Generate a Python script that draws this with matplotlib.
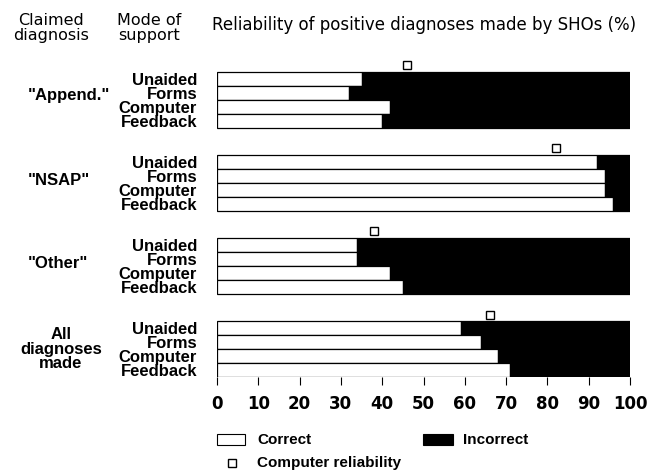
import matplotlib
matplotlib.use("Agg")
import matplotlib.pyplot as plt
import matplotlib.transforms as mtransforms
from matplotlib.patches import Rectangle
from matplotlib.lines import Line2D

# ---- data ----
diagnoses = ['"Append."', '"NSAP"', '"Other"', 'All\ndiagnoses\nmade']
modes = ["Unaided", "Forms", "Computer", "Feedback"]
correct = [
    [35, 32, 42, 40],   # Append.
    [92, 94, 94, 96],   # NSAP
    [34, 34, 42, 45],   # Other
    [59, 64, 68, 71],   # All diagnoses
]
computer_reliability = [46, 82, 38, 66]
xticks = [0, 10, 20, 30, 40, 50, 60, 70, 80, 90, 100]

W, H = 663, 475
fig = plt.figure(figsize=(W / 100, H / 100), dpi=100)
FONT = "Liberation Sans"
HFONT = "DejaVu Sans"
plt.rcParams["font.family"] = FONT

# axes placement in pixels
x0, x1 = 217, 630
ytop, ybot = 60, 377
ax = fig.add_axes([x0 / W, 1 - ybot / H, (x1 - x0) / W, (ybot - ytop) / H])

bar_h = 1.0
pitch = 83.5 / 14.0
first_top = (72 - ytop) / 14.0

centers = []
labels = []
for g, vals in enumerate(correct):
    for k, v in enumerate(vals):
        yc = g * pitch + k + 0.5
        centers.append(yc)
        labels.append(modes[k])
        ax.barh(yc, v, height=bar_h, left=0, color="white", edgecolor="black", linewidth=0.9)
        ax.barh(yc, 100 - v, height=bar_h, left=v, color="black", edgecolor="black", linewidth=0.9)
    ax.plot(computer_reliability[g], g * pitch - 0.48, marker="s", markersize=6,
            markerfacecolor="white", markeredgecolor="black", markeredgewidth=1.0,
            linestyle="none", clip_on=False)

last_bottom = 3 * pitch + 4
ax.set_ylim(last_bottom, -first_top)
ax.set_xlim(0, 100)
for s in ax.spines.values():
    s.set_visible(False)
ax.set_yticks(centers)
ax.set_yticklabels(labels, fontsize=12, fontweight="bold", family=FONT)
ax.tick_params(axis="y", length=0, pad=14.4)
ax.set_xticks(xticks)
ax.set_xticklabels([str(t) for t in xticks], fontsize=12, fontweight="bold", family=HFONT)
ax.tick_params(axis="x", length=6, width=0.8, pad=7, direction="out")

# category labels
btrans = mtransforms.blended_transform_factory(fig.transFigure, ax.transData)
cat_x = [28, 28, 28, 61]
cat_ha = ["left", "left", "left", "center"]
cat_dy = [1.7, 1.8, 1.8, 2.0]
for g, name in enumerate(diagnoses):
    ax.text(cat_x[g] / W, g * pitch + cat_dy[g], name, transform=btrans, ha=cat_ha[g],
            va="center", fontsize=12, fontweight="bold", linespacing=0.95, family=FONT)

# headers
fig.text(51 / W, 1 - 28 / H, "Claimed\ndiagnosis", ha="center", va="center",
         fontsize=11.5, linespacing=1.0, family=HFONT)
fig.text(149 / W, 1 - 28 / H, "Mode of\nsupport", ha="center", va="center",
         fontsize=11.5, linespacing=1.0, family=HFONT)
fig.text(212 / W, 1 - 25 / H, "Reliability of positive diagnoses made by SHOs (%)",
         ha="left", va="center", fontsize=12, family=HFONT)

# legend (manual)
def frect(xp, yp, wp, hp, fc):
    fig.patches.append(Rectangle((xp / W, 1 - (yp + hp) / H), wp / W, hp / H,
                                 transform=fig.transFigure, facecolor=fc,
                                 edgecolor="black", linewidth=0.8))

frect(217, 434, 28, 11, "white")
fig.text(257 / W, 1 - 440 / H, "Correct", ha="left", va="center", fontsize=11, fontweight="bold")
frect(423, 434, 30, 11, "black")
fig.text(463 / W, 1 - 440 / H, "Incorrect", ha="left", va="center", fontsize=11, fontweight="bold")
fig.lines.append(Line2D([231.5 / W], [1 - 463 / H], transform=fig.transFigure, marker="s",
                        markersize=6, markerfacecolor="white", markeredgecolor="black",
                        markeredgewidth=1.0, linestyle="none"))
fig.text(257 / W, 1 - 463 / H, "Computer reliability", ha="left", va="center",
         fontsize=11, fontweight="bold")

fig.savefig("out.png", dpi=100, facecolor="white")
